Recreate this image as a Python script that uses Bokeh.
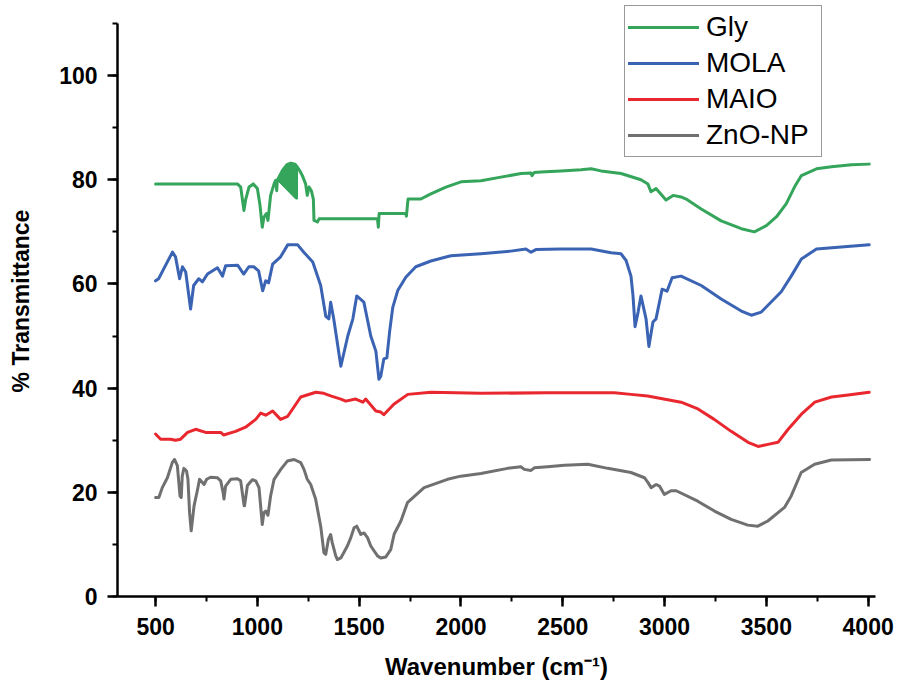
from bokeh.plotting import figure
from bokeh.models import Range1d, SingleIntervalTicker, Legend, LegendItem
from bokeh.embed import file_html
from bokeh.resources import INLINE

# ---------------- data ----------------
gly_w = [500, 902, 918, 934, 943, 959, 980, 1000, 1013, 1024, 1032, 1044, 1052, 1065, 1082, 1090,
         1095, 1098, 1123, 1145, 1164, 1185, 1197, 1210, 1221, 1237, 1245, 1254, 1265, 1275, 1278,
         1295, 1303, 1590, 1594, 1598, 1606, 1700, 1729, 1732, 1740, 1803, 1852, 1926, 2000, 2098,
         2196, 2295, 2344, 2349, 2360, 2393, 2491, 2590, 2639, 2688, 2786, 2884, 2918, 2933, 2958,
         3007, 3042, 3081, 3106, 3180, 3278, 3377, 3441, 3500, 3550, 3598, 3638, 3672, 3746, 3820,
         3918, 4005]
gly_t = [79.2, 79.2, 78.6, 74.1, 76.3, 78.6, 79.2, 78.3, 75.1, 70.9, 72.8, 73.5, 72.2, 77.0, 79.2, 79.9,
         77.9, 79.9, 81.8, 82.9, 83.2, 83.0, 82.4, 81.6, 80.8, 79.2, 77.0, 78.6, 77.9, 76.3, 72.2,
         71.9, 72.5, 72.5, 70.9, 73.5, 73.5, 73.5, 73.5, 73.0, 76.3, 76.3, 77.3, 78.6, 79.6, 79.8,
         80.5, 81.2, 81.3, 80.8, 81.4, 81.5, 81.7, 81.9, 82.1, 81.7, 81.2, 80.0, 79.2, 77.7, 78.3,
         76.1, 77.0, 76.7, 76.3, 74.4, 72.1, 70.6, 70.0, 71.2, 72.9, 75.4, 78.6, 80.8, 82.1, 82.5,
         82.9, 83.0]
# filled artefact of the Gly trace near 1100-1200 cm-1
gly_fill_w = [1098, 1123, 1145, 1164, 1185, 1197, 1197, 1188]
gly_fill_t = [79.9, 81.8, 82.9, 83.2, 83.0, 82.4, 76.3, 76.3]

mola_w = [500, 515, 540, 583, 598, 618, 632, 648, 672, 687, 712, 730, 755, 804, 829, 844, 903, 933,
          958, 982, 1006, 1026, 1041, 1055, 1075, 1114, 1149, 1198, 1228, 1272, 1311, 1336, 1351,
          1360, 1375, 1410, 1444, 1469, 1488, 1523, 1557, 1582, 1597, 1606, 1621, 1636, 1650, 1665,
          1690, 1729, 1778, 1852, 1950, 2098, 2245, 2319, 2344, 2368, 2491, 2639, 2737, 2786, 2811,
          2835, 2845, 2855, 2870, 2884, 2909, 2923, 2943, 2958, 2988, 3012, 3037, 3081, 3180, 3278,
          3377, 3426, 3475, 3573, 3622, 3672, 3746, 3868, 4005]
mola_t = [60.6, 61.0, 62.9, 66.1, 65.2, 61.0, 63.3, 62.3, 55.2, 59.7, 61.0, 60.4, 61.9, 63.1, 61.5, 63.5,
          63.6, 61.9, 63.3, 63.3, 62.5, 58.7, 60.6, 60.2, 63.8, 65.2, 67.5, 67.5, 66.1, 64.2, 59.7,
          53.8, 53.3, 56.5, 53.3, 44.2, 50.0, 53.3, 57.7, 56.5, 50.0, 47.1, 41.7, 42.3, 45.6, 45.8,
          51.0, 55.5, 58.8, 61.3, 63.3, 64.4, 65.4, 65.8, 66.3, 66.7, 66.1, 66.6, 66.7, 66.7, 66.0,
          65.8, 64.5, 61.5, 57.7, 51.8, 54.6, 57.7, 53.3, 48.0, 52.7, 53.3, 59.0, 58.6, 61.2, 61.5,
          59.7, 57.1, 54.8, 54.0, 54.6, 58.5, 61.5, 64.8, 66.7, 67.1, 67.5]

maio_w = [500, 525, 574, 598, 623, 657, 697, 746, 820, 834, 893, 942, 992, 1016, 1041, 1075, 1114,
          1149, 1213, 1287, 1326, 1360, 1410, 1434, 1483, 1518, 1532, 1582, 1606, 1621, 1670, 1739,
          1852, 2098, 2427, 2753, 2835, 2917, 3081, 3164, 3244, 3327, 3410, 3459, 3508, 3557, 3607,
          3672, 3738, 3820, 3902, 4005]
maio_t = [31.2, 30.2, 30.2, 30.0, 30.2, 31.5, 32.1, 31.5, 31.5, 31.0, 31.7, 32.5, 34.0, 35.2, 34.8,
          35.6, 34.0, 34.6, 38.3, 39.2, 39.0, 38.5, 37.9, 37.5, 37.9, 37.3, 37.9, 35.6, 35.4, 34.9,
          36.9, 38.8, 39.2, 39.0, 39.1, 39.1, 38.8, 38.5, 37.3, 36.0, 34.0, 31.7, 29.6, 28.8, 29.2,
          29.6, 32.1, 35.0, 37.3, 38.3, 38.7, 39.2]

zno_w = [500, 516, 533, 558, 582, 593, 607, 620, 626, 631, 639, 652, 659, 667, 675, 689, 705, 716,
         730, 738, 751, 770, 803, 820, 832, 836, 844, 869, 902, 918, 935, 937, 951, 975, 992, 1008,
         1016, 1024, 1032, 1041, 1052, 1065, 1082, 1115, 1147, 1180, 1213, 1229, 1245, 1262, 1286,
         1311, 1327, 1336, 1349, 1360, 1368, 1385, 1393, 1410, 1442, 1459, 1475, 1488, 1508, 1524,
         1541, 1557, 1590, 1606, 1631, 1655, 1672, 1705, 1737, 1819, 1934, 1999, 2098, 2229, 2294,
         2311, 2344, 2360, 2426, 2508, 2623, 2721, 2835, 2901, 2918, 2934, 2959, 2975, 2999, 3032,
         3057, 3163, 3245, 3327, 3409, 3458, 3507, 3589, 3622, 3671, 3737, 3819, 4007]
zno_t = [19.0, 19.0, 20.9, 22.8, 25.7, 26.3, 25.1, 19.3, 19.0, 23.1, 24.6, 24.1, 22.5, 16.1, 12.6,
         17.4, 20.3, 22.5, 21.9, 21.5, 22.5, 22.9, 22.8, 22.2, 19.9, 18.7, 21.2, 22.5, 22.6, 22.2,
         17.4, 17.4, 21.3, 22.4, 22.2, 20.9, 17.4, 13.8, 16.1, 16.4, 15.6, 19.3, 22.5, 24.4, 26.0,
         26.3, 25.7, 24.4, 22.5, 21.5, 18.7, 13.5, 8.4, 8.1, 11.0, 11.9, 10.3, 7.8, 7.1, 7.4, 9.7,
         11.3, 13.2, 13.5, 11.9, 12.2, 11.3, 9.7, 7.8, 7.4, 7.6, 9.0, 12.0, 14.5, 18.0, 20.9, 22.5,
         23.1, 23.6, 24.6, 24.9, 24.4, 24.2, 24.7, 24.9, 25.2, 25.4, 24.6, 23.8, 22.8, 21.9, 20.9,
         21.5, 21.2, 19.6, 20.3, 20.3, 18.3, 16.4, 14.8, 13.7, 13.5, 14.5, 17.1, 19.3, 23.8, 25.4,
         26.2, 26.3]

series_names = ["Gly", "MOLA", "MAIO", "ZnO-NP"]
series_colors = ["#34a55b", "#3b63b3", "#e8282e", "#707070"]

x_ticks_interval = 500
y_ticks_interval = 20
y_axis_bounds = (0, 110)

# ---------------- figure ----------------
FONT = "Liberation Sans"

# frame reaches a little above the top of the y axis so the legend (which overhangs it) is not clipped
p = figure(width=895, height=682,
           x_range=Range1d(313, 4036), y_range=Range1d(0, 113.45),
           output_backend="svg", toolbar_location=None,
           min_border_left=117, min_border_right=20,
           min_border_top=5, min_border_bottom=85)
p.outline_line_color = None
p.grid.visible = False
p.background_fill_color = "white"
p.border_fill_color = "white"

p.xaxis.ticker = SingleIntervalTicker(interval=x_ticks_interval, num_minor_ticks=2)
p.yaxis.ticker = SingleIntervalTicker(interval=y_ticks_interval, num_minor_ticks=2)
p.yaxis.bounds = y_axis_bounds

for ax in (p.xaxis[0], p.yaxis[0]):
    ax.axis_line_color = "black"
    ax.axis_line_width = 2.5
    ax.major_tick_line_color = "black"
    ax.major_tick_line_width = 2.5
    ax.minor_tick_line_color = "black"
    ax.minor_tick_line_width = 2
    ax.major_tick_out = 10
    ax.major_tick_in = 0
    ax.minor_tick_out = 5
    ax.minor_tick_in = 0
    ax.major_label_text_font = FONT
    ax.major_label_text_font_size = "23px"
    ax.major_label_text_font_style = "bold"
    ax.major_label_text_color = "black"
    ax.axis_label_text_font = FONT
    ax.axis_label_text_font_style = "bold"
    ax.axis_label_text_color = "black"

p.xaxis.axis_label = "Wavenumber (cm\u207b\u00b9)"
p.xaxis.axis_label_text_font_size = "24px"
p.xaxis.major_label_standoff = 11
p.xaxis.axis_label_standoff = 15
p.yaxis.axis_label = "% Transmittance"
p.yaxis.axis_label_text_font_size = "23px"
p.yaxis.major_label_standoff = 10
p.yaxis.axis_label_standoff = 22

# ---------------- curves ----------------
p.patch(gly_fill_w, gly_fill_t, fill_color=series_colors[0], line_color=series_colors[0], line_width=1)
data = [(gly_w, gly_t), (mola_w, mola_t), (maio_w, maio_t), (zno_w, zno_t)]
renderers = []
for (w, t), c in zip(data, series_colors):
    r = p.line(w, t, line_color=c, line_width=3, line_join="round", line_cap="round")
    renderers.append(r)

legend = Legend(items=[LegendItem(label=n, renderers=[r]) for n, r in zip(series_names, renderers)],
                location=(507, 439))
legend.label_text_font = FONT
legend.label_text_font_size = "28px"
legend.label_text_color = "black"
legend.glyph_width = 71
legend.glyph_height = 36
legend.label_height = 36
legend.label_width = 112
legend.label_standoff = 7
legend.spacing = 0
legend.padding = 3
legend.margin = 0
legend.border_line_color = "#333333"
legend.border_line_width = 1
legend.background_fill_color = "white"
legend.background_fill_alpha = 1
p.add_layout(legend, "center")

open("out.html", "w").write(file_html(p, INLINE))
